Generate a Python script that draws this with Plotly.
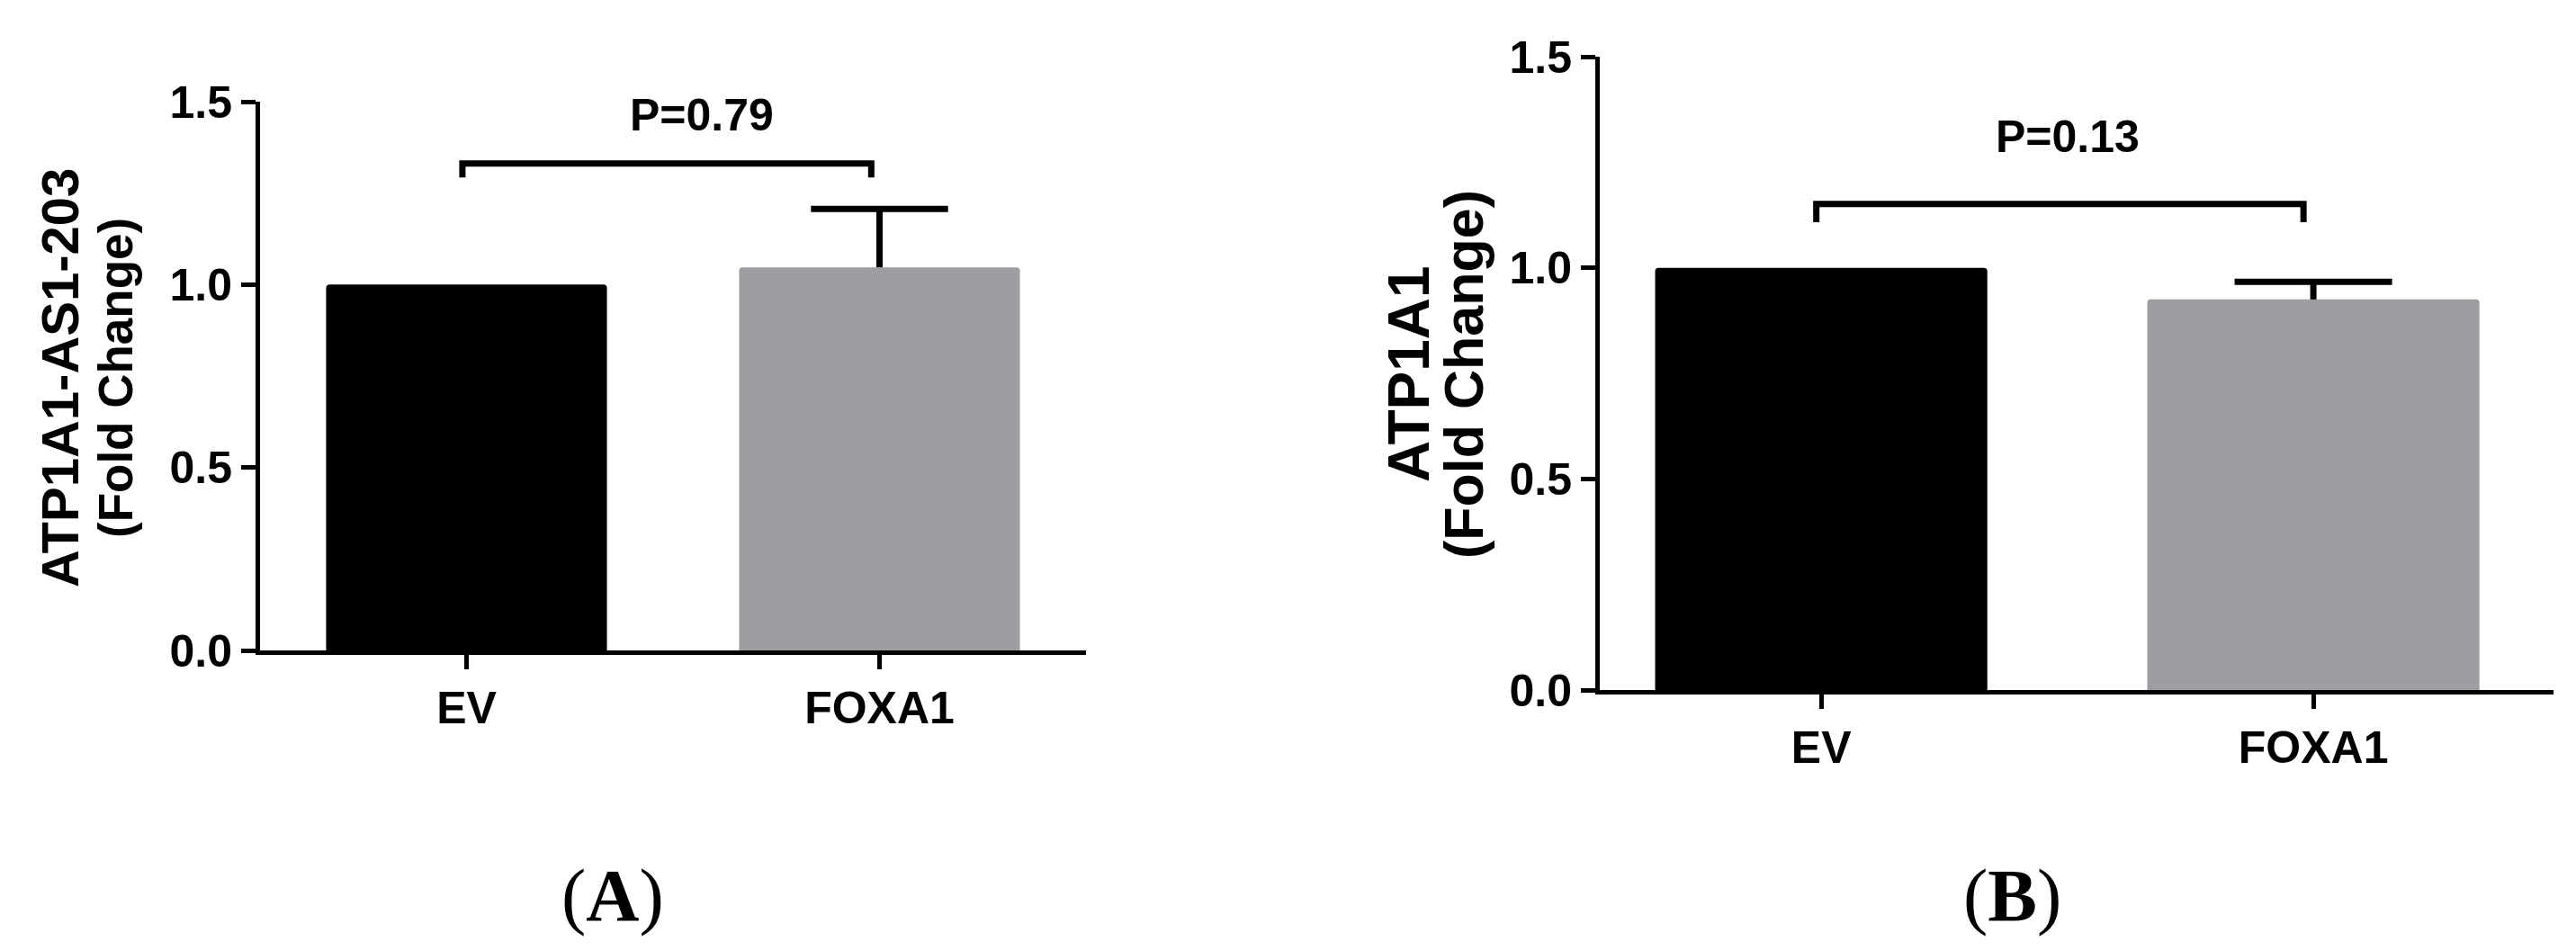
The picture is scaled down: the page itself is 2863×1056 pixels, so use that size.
import plotly.graph_objects as go

# ---------------- data ----------------
categories = ["EV", "FOXA1"]
cat_pos = [0, 1]

a_values = [1.00, 1.047]
a_sem = [0.0, 0.16]
a_title = ["ATP1A1-AS1-203", "(Fold Change)"]
a_pvalue = "P=0.79"
a_bracket = [1.331, 1.293]   # bracket level, bracket leg end
a_ptext = [0.57, 1.462]      # x, y of p label

b_values = [1.00, 0.925]
b_sem = [0.0, 0.042]
b_title = ["ATP1A1", "(Fold Change)"]
b_pvalue = "P=0.13"
b_bracket = [1.151, 1.108]
b_ptext = [0.50, 1.31]

y_ticks = [0.0, 0.5, 1.0, 1.5]
colors = ["#000000", "#9e9ea2"]
panel_labels = ["A", "B"]

W, H = 2863, 1056
FONT = "Liberation Sans, Arial, sans-serif"

fig = go.Figure()

def add_panel(vals, sem, xa, ya, width, cap_hw):
    for i in range(2):
        fig.add_trace(go.Bar(x=[cat_pos[i]], y=[vals[i]], width=width,
                             marker=dict(color=colors[i], line=dict(width=0), cornerradius=4),
                             xaxis=xa, yaxis=ya, showlegend=False, hoverinfo="skip"))
    # upward-only SEM error bars (stem + cap)
    ex, ey = [], []
    for i in range(2):
        if sem[i] > 0:
            c, top = cat_pos[i], vals[i] + sem[i]
            ex += [c, c, None, c - cap_hw, c + cap_hw, None]
            ey += [vals[i], top, None, top, top, None]
    fig.add_trace(go.Scatter(x=ex, y=ey, mode="lines", line=dict(color="black", width=7),
                             xaxis=xa, yaxis=ya, showlegend=False, hoverinfo="skip"))

add_panel(a_values, a_sem, "x", "y", 0.68, 0.166)
add_panel(b_values, b_sem, "x2", "y2", 0.675, 0.16)

axis_common = dict(showline=True, linecolor="black", linewidth=5, ticks="outside",
                   ticklen=16, tickwidth=5, tickcolor="black", showgrid=False,
                   zeroline=False, automargin=False,
                   tickfont=dict(family=FONT, size=50, color="black", weight="bold"))

fig.update_layout(
    template="none",
    width=W, height=H, margin=dict(l=0, r=0, t=0, b=0, pad=0, autoexpand=False),
    paper_bgcolor="white", plot_bgcolor="white", barmode="overlay", showlegend=False,
    xaxis=dict(domain=[289 / W, 1207 / W], range=[-0.5, 1.5],
               tickvals=cat_pos, ticktext=categories, anchor="y", **axis_common),
    yaxis=dict(domain=[(H - 723) / H, (H - 113) / H], range=[0, 1.5],
               tickvals=y_ticks, tickformat=".1f", anchor="x", **axis_common),
    xaxis2=dict(domain=[1778 / W, 2838 / W], range=[-0.45, 1.488],
                tickvals=cat_pos, ticktext=categories, anchor="y2", **axis_common),
    yaxis2=dict(domain=[(H - 767) / H, (H - 63) / H], range=[0, 1.5],
                tickvals=y_ticks, tickformat=".1f", anchor="x2", **axis_common),
)

def bracket(xr, yr, br):
    x0, x1 = -0.01, 0.98
    path = f"M {x0},{br[1]} L {x0},{br[0]} L {x1},{br[0]} L {x1},{br[1]}"
    fig.add_shape(type="path", path=path, xref=xr, yref=yr,
                  line=dict(color="black", width=7))

bracket("x", "y", a_bracket)
bracket("x2", "y2", b_bracket)

def ptext(xr, yr, txt, pos):
    fig.add_annotation(x=pos[0], y=pos[1], xref=xr, yref=yr, text=txt, showarrow=False,
                       xanchor="center", yanchor="middle",
                       font=dict(family=FONT, size=50, color="black", weight="bold"))

ptext("x", "y", a_pvalue, a_ptext)
ptext("x2", "y2", b_pvalue, b_ptext)

def ytitle(lines, xs, yc, sizes):
    for line, xc, sz in zip(lines, xs, sizes):
        fig.add_annotation(x=xc / W, y=(H - yc) / H, xref="paper", yref="paper",
                           text=line, textangle=-90, showarrow=False,
                           xanchor="center", yanchor="middle",
                           font=dict(family=FONT, size=sz, color="black", weight="bold"))

ytitle(a_title, [66, 128], 420, [58, 53])
ytitle(b_title, [1566, 1627], 416, [64, 61])

for lab, xc in zip(panel_labels, [681, 2236]):
    fig.add_annotation(x=xc / W, y=(H - 995) / H, xref="paper", yref="paper",
                       text=f"(<b>{lab}</b>)", showarrow=False, xanchor="center",
                       yanchor="middle",
                       font=dict(family="Liberation Serif, Times New Roman, serif",
                                 size=82, color="black"))

fig.write_html("out.html", config={"displayModeBar": False},
               post_script="document.body.style.margin='0px';")
